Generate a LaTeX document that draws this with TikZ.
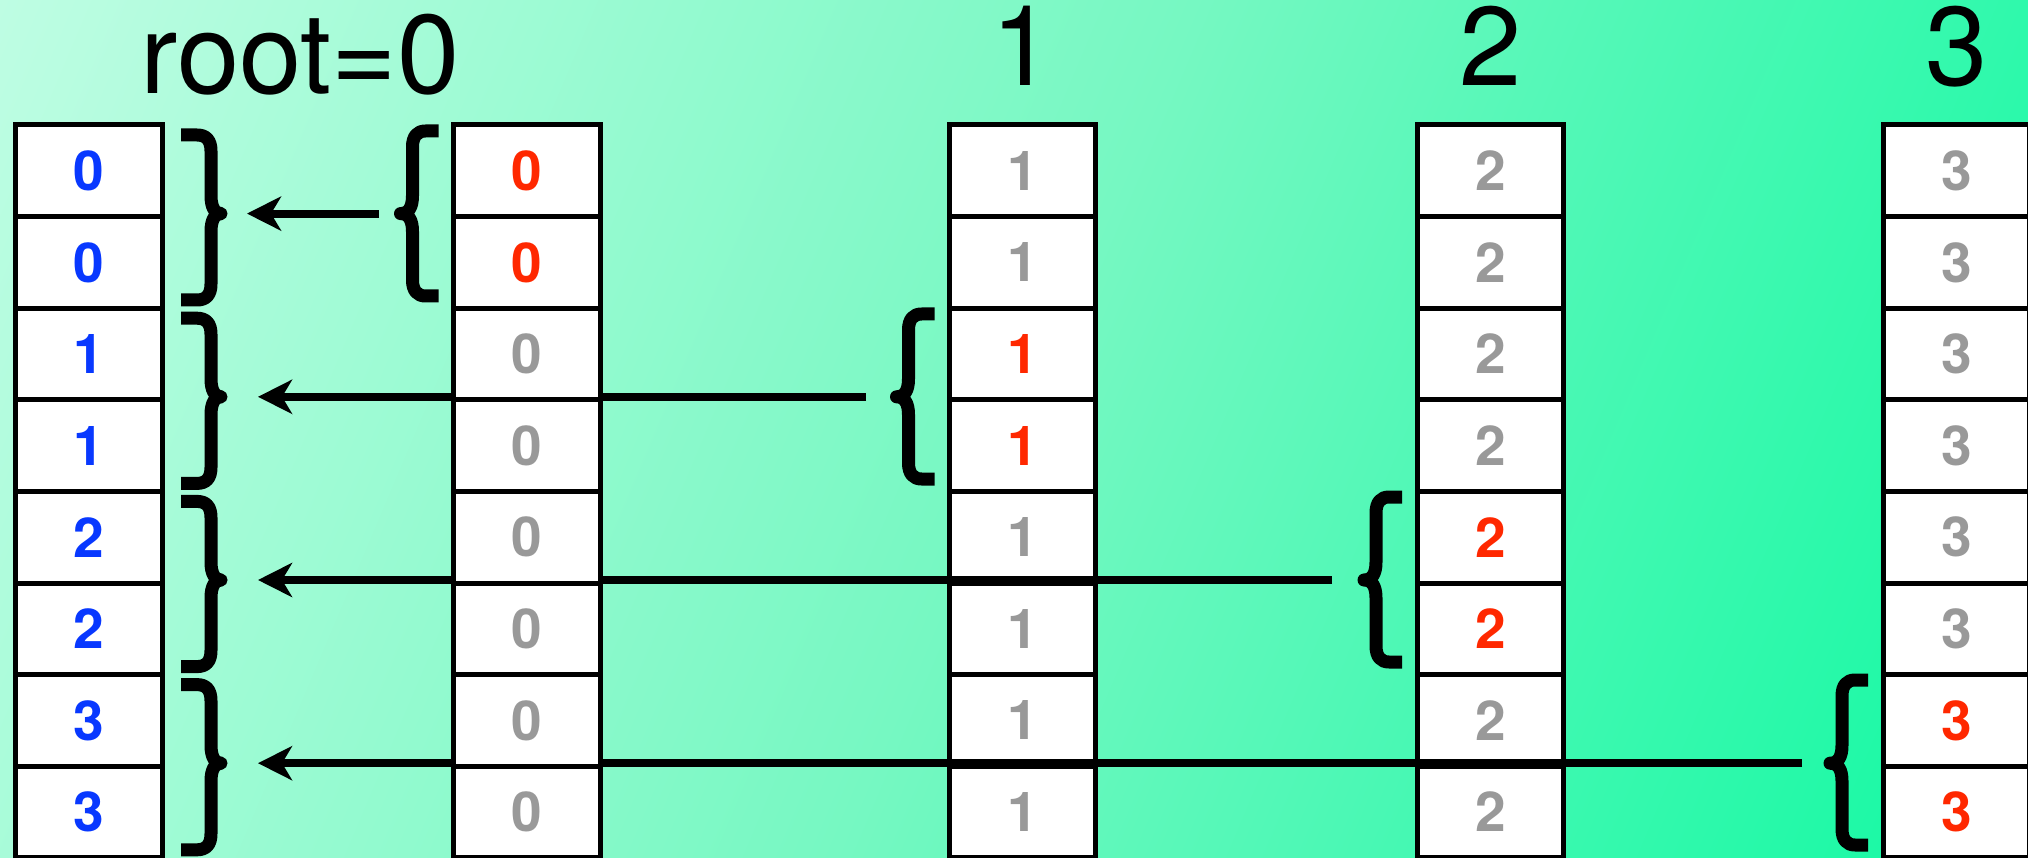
\documentclass[tikz,border=0pt]{standalone}
\usepackage{fontspec}
\setmainfont{TeX Gyre Heros}
\usetikzlibrary{arrows.meta}
\definecolor{bgA}{RGB}{190,253,227}
\definecolor{bgB}{RGB}{118,248,194}
\definecolor{bgC}{RGB}{16,249,162}
\definecolor{numblue}{RGB}{8,56,255}
\definecolor{numred}{RGB}{255,40,0}
\definecolor{numgray}{RGB}{153,153,153}
\tikzset{
  cell/.style={draw=black, fill=white, line width=5pt, minimum width=146.5pt,
    minimum height=91.6pt, inner sep=0pt, font=\fontsize{55}{55}\selectfont\bfseries},
  bracestroke/.style={line width=13pt, line cap=butt, line join=round},
  link/.style={line width=8pt, -{Stealth[length=34pt,width=34pt,inset=10pt]}},
  lab/.style={font=\fontsize{112}{112}\selectfont, inner sep=0pt, anchor=base},
}
% right brace: #1 column right edge, #2 top hook y, #3 tip y, #4 bottom hook y
\newcommand{\myRB}[4]{%
  \draw[bracestroke] ({#1+19},{#2}) -- ({#1+35},{#2})
    .. controls ({#1+44},{#2}) and ({#1+49},{#2+5}) .. ({#1+49},{#2+16})
    -- ({#1+49},{#3-18})
    .. controls ({#1+49},{#3-6}) and ({#1+53},{#3}) .. ({#1+59},{#3})
    .. controls ({#1+53},{#3}) and ({#1+49},{#3+6}) .. ({#1+49},{#3+18})
    -- ({#1+49},{#4-16})
    .. controls ({#1+49},{#4-5}) and ({#1+44},{#4}) .. ({#1+35},{#4})
    -- ({#1+19},{#4});}
% left brace: #1 column left edge, #2 top hook y, #3 tip y, #4 bottom hook y
\newcommand{\myLB}[4]{%
  \draw[bracestroke] ({#1-15},{#2}) -- ({#1-28},{#2})
    .. controls ({#1-36},{#2}) and ({#1-41},{#2+5}) .. ({#1-41},{#2+16})
    -- ({#1-41},{#3-18})
    .. controls ({#1-41},{#3-6}) and ({#1-45},{#3}) .. ({#1-53},{#3})
    .. controls ({#1-45},{#3}) and ({#1-41},{#3+6}) .. ({#1-41},{#3+18})
    -- ({#1-41},{#4-16})
    .. controls ({#1-41},{#4-5}) and ({#1-36},{#4}) .. ({#1-28},{#4})
    -- ({#1-15},{#4});}
\begin{document}
\begin{tikzpicture}[x=1pt,y=-1pt]
\useasboundingbox (0,0) rectangle (2028,858);
% background gradient
\begin{scope}
  \clip (0,0) rectangle (2028,858);
  \begin{scope}[transform canvas={rotate around={-22.93:(1014,429)}}]
    \shade[left color=bgA, right color=bgC, middle color=bgB]
      (-87,-371) rectangle (2115,1229);
  \end{scope}
\end{scope}
% columns under the arrows
\foreach \v/\c [count=\r] in {0/numblue,0/numblue,1/numblue,1/numblue,2/numblue,2/numblue,3/numblue,3/numblue}
  \node[cell, text=\c] (a\r) at (88.8,{125+(\r-0.5)*91.6}) {\v};
\foreach \v/\c [count=\r] in {1/numgray,1/numgray,1/numred,1/numred,1/numgray,1/numgray,1/numgray,1/numgray}
  \node[cell, text=\c] (c\r) at (1022.5,{125+(\r-0.5)*91.6}) {\v};
\foreach \v/\c [count=\r] in {2/numgray,2/numgray,2/numgray,2/numgray,2/numred,2/numred,2/numgray,2/numgray}
  \node[cell, text=\c] (d\r) at (1490.5,{125+(\r-0.5)*91.6}) {\v};
\foreach \v/\c [count=\r] in {3/numgray,3/numgray,3/numgray,3/numgray,3/numgray,3/numgray,3/numred,3/numred}
  \node[cell, text=\c] (e\r) at (1956.3,{125+(\r-0.5)*91.6}) {\v};
% arrows
\coordinate (s1) at (379,213.6);  \coordinate (t1) at (247,213.6);
\coordinate (s2) at (866,396.8);  \coordinate (t2) at (258,396.8);
\coordinate (s3) at (1332,580.0); \coordinate (t3) at (258,580.0);
\coordinate (s4) at (1802,763.2); \coordinate (t4) at (258,763.2);
\draw[link] (s1) -- (t1);
\draw[link] (s2) -- (t2);
\draw[link] (s3) -- (t3);
\draw[link] (s4) -- (t4);
% second column over the arrows
\foreach \v/\c [count=\r] in {0/numred,0/numred,0/numgray,0/numgray,0/numgray,0/numgray,0/numgray,0/numgray}
  \node[cell, text=\c] (b\r) at (526.75,{125+(\r-0.5)*91.6}) {\v};
% braces
\myRB{162}{135}{213.6}{300}
\myRB{162}{318.2}{396.8}{483.4}
\myRB{162}{501.4}{580.0}{666.6}
\myRB{162}{684.6}{763.2}{849.8}
\myLB{453.5}{131}{213.6}{296}
\myLB{949.5}{314}{396.8}{479}
\myLB{1417}{497}{580.0}{662}
\myLB{1883}{680}{763.2}{845}
% titles
\node[lab] (root) at (300,94) {root=0};
\node[lab] (l1) at (1022.5,86) {1};
\node[lab] (l2) at (1490.5,86) {2};
\node[lab] (l3) at (1956.3,86) {3};
\end{tikzpicture}
\end{document}
